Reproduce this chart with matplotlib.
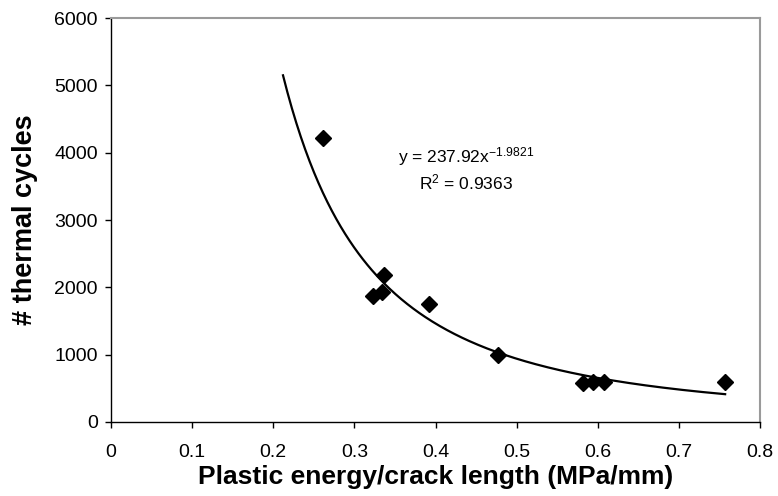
import numpy as np
import matplotlib
matplotlib.use('Agg')
import matplotlib.pyplot as plt

plt.rcParams['font.family'] = ['Liberation Sans', 'DejaVu Sans']
plt.rcParams['mathtext.fontset'] = 'custom'
plt.rcParams['mathtext.rm'] = 'Liberation Sans'
plt.rcParams['mathtext.it'] = 'Liberation Sans'

# measured points
energy = [0.261, 0.3366, 0.3337, 0.3234, 0.3925, 0.4764, 0.5816, 0.594, 0.6079, 0.7571]
cycles = [4215, 2184, 1936, 1872, 1753, 995, 575, 599, 599, 590]

# power law fit y = a * x^b
fit_a = 237.92
fit_b = -1.9821
fit_r2 = 0.9363
fit_xmin = 0.212
fit_xmax = 0.757

fig = plt.figure(figsize=(7.78, 4.96), dpi=100)
ax = fig.add_axes([0.1427, 0.1492, 0.9769 - 0.1427, 0.9637 - 0.1492])

xf = np.linspace(fit_xmin, fit_xmax, 300)
ax.plot(xf, fit_a * xf ** fit_b, color='black', linewidth=1.6, zorder=2)
ax.plot(energy, cycles, linestyle='none', marker='D', markersize=8.5,
        color='black', zorder=3)

ax.text(0.4377, 3937, r'y = %.2fx$^{%.4f}$' % (fit_a, fit_b), ha='center', va='center', fontsize=12.5)
ax.text(0.4377, 3560, r'R$^{2}$ = %.4f' % fit_r2, ha='center', va='center', fontsize=12.5)

ax.set_xlim(0, 0.8)
ax.set_ylim(0, 6000)
ax.set_xticks(np.arange(0, 0.81, 0.1))
ax.set_xticklabels(['0', '0.1', '0.2', '0.3', '0.4', '0.5', '0.6', '0.7', '0.8'])
ax.set_yticks(np.arange(0, 6001, 1000))

ax.tick_params(direction='out', length=4.5, width=1, labelsize=14, colors='black')
ax.tick_params(axis='x', pad=11)
ax.tick_params(axis='y', pad=5)

for s in ['top', 'right']:
    ax.spines[s].set_color('#9a9a9a')
    ax.spines[s].set_linewidth(1.5)
for s in ['left', 'bottom']:
    ax.spines[s].set_color('black')
    ax.spines[s].set_linewidth(1)

ax.set_xlabel('Plastic energy/crack length (MPa/mm)', fontsize=19, fontweight='bold', labelpad=3)
ax.set_ylabel('# thermal cycles', fontsize=19.5, fontweight='bold', labelpad=12)

fig.savefig('out.png', dpi=100)
